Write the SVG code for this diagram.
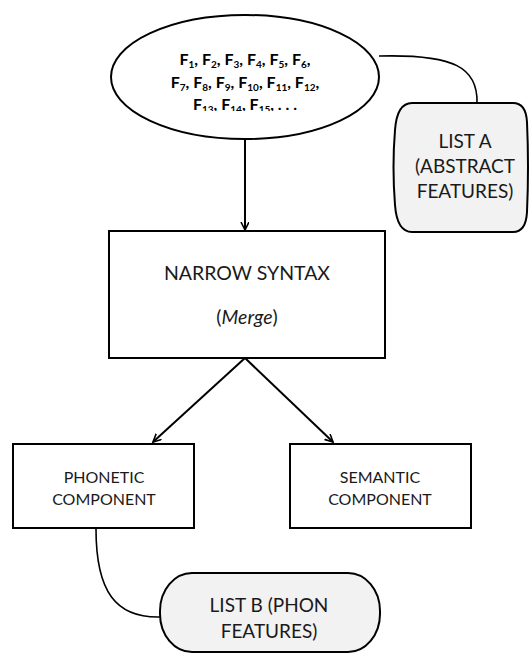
<svg xmlns="http://www.w3.org/2000/svg" width="530" height="656" viewBox="0 0 530 656">
  <style>
    .box { fill: #ffffff; stroke: #000; stroke-width: 2; }
    .list { fill: #f2f2f2; stroke: #000; stroke-width: 2; }
    .link { fill: none; stroke: #000; stroke-width: 1.6; }
    .arrow { fill: none; stroke: #000; stroke-width: 2; marker-end: url(#head); }
    text { font-family: Lato, "Open Sans", "Liberation Sans", sans-serif; fill: #1a1a1a; text-anchor: middle; }
    .feat { font-size: 16px; font-weight: bold; fill: #000; }
    .sub { font-size: 10px; }
    .ns { font-size: 19.5px; }
    .comp { font-size: 16px; }
    .lbl { font-size: 19px; }
  </style>
  <defs>
    <marker id="head" markerWidth="10" markerHeight="10" refX="8" refY="4" orient="auto" markerUnits="userSpaceOnUse">
      <path d="M0,0 L8,4 L0,8" fill="none" stroke="#000" stroke-width="1.6"/>
    </marker>
    <clipPath id="featClip">
      <rect x="100" y="10" width="300" height="101"/>
    </clipPath>
  </defs>

  <!-- connectors -->
  <g id="connectors">
    <line class="arrow" x1="245" y1="139" x2="245" y2="230"/>
    <line class="arrow" x1="245" y1="358" x2="153" y2="442"/>
    <line class="arrow" x1="245" y1="358" x2="333" y2="442"/>
    <path class="link" d="M379,56 C455,54 478,68 477,103"/>
    <path class="link" d="M96,529 C96,592 116,618 160,617"/>
  </g>

  <!-- feature bundle -->
  <g id="features">
    <ellipse class="box" cx="245" cy="77" rx="134" ry="62" stroke-width="2.5"/>
    <g clip-path="url(#featClip)">
      <text class="feat" x="245" y="65">F<tspan class="sub" dy="3">1</tspan><tspan dy="-3">, F</tspan><tspan class="sub" dy="3">2</tspan><tspan dy="-3">, F</tspan><tspan class="sub" dy="3">3</tspan><tspan dy="-3">, F</tspan><tspan class="sub" dy="3">4</tspan><tspan dy="-3">, F</tspan><tspan class="sub" dy="3">5</tspan><tspan dy="-3">, F</tspan><tspan class="sub" dy="3">6</tspan><tspan dy="-3">,</tspan></text>
      <text class="feat" x="245" y="87.5">F<tspan class="sub" dy="3">7</tspan><tspan dy="-3">, F</tspan><tspan class="sub" dy="3">8</tspan><tspan dy="-3">, F</tspan><tspan class="sub" dy="3">9</tspan><tspan dy="-3">, F</tspan><tspan class="sub" dy="3">10</tspan><tspan dy="-3">, F</tspan><tspan class="sub" dy="3">11</tspan><tspan dy="-3">, F</tspan><tspan class="sub" dy="3">12</tspan><tspan dy="-3">,</tspan></text>
      <text class="feat" x="245" y="110">F<tspan class="sub" dy="3">13</tspan><tspan dy="-3">, F</tspan><tspan class="sub" dy="3">14</tspan><tspan dy="-3">, F</tspan><tspan class="sub" dy="3">15</tspan><tspan dy="-3">, . . .</tspan></text>
    </g>
  </g>

  <!-- list A -->
  <g id="listA">
    <path class="list" d="M412,103 H513 Q526,103 527,122 Q529,167 527,212 Q526,232 513,232 H412 Q397,232 395,205 Q392,167 395,130 Q397,103 412,103 Z"/>
    <text class="lbl" x="465" y="148">LIST  A</text>
    <text class="lbl" x="465" y="173">(ABSTRACT</text>
    <text class="lbl" x="465" y="198">FEATURES)</text>
  </g>

  <!-- narrow syntax -->
  <g id="narrowSyntax">
    <rect class="box" x="109" y="231" width="276" height="127"/>
    <text class="ns" x="247" y="280">NARROW SYNTAX</text>
    <text class="ns" x="247" y="324">(<tspan font-style="italic">Merge</tspan>)</text>
  </g>

  <!-- phonetic component -->
  <g id="phonetic">
    <rect class="box" x="13" y="444" width="181" height="84"/>
    <text class="comp" x="104" y="483">PHONETIC</text>
    <text class="comp" x="104" y="505">COMPONENT</text>
  </g>

  <!-- semantic component -->
  <g id="semantic">
    <rect class="box" x="290" y="444" width="181" height="84"/>
    <text class="comp" x="380" y="483">SEMANTIC</text>
    <text class="comp" x="380" y="505">COMPONENT</text>
  </g>

  <!-- list B -->
  <g id="listB">
    <rect class="list" x="160" y="573" width="220" height="79" rx="32" ry="38"/>
    <text class="lbl" x="269" y="612">LIST B (PHON</text>
    <text class="lbl" x="269" y="638">FEATURES)</text>
  </g>
</svg>
